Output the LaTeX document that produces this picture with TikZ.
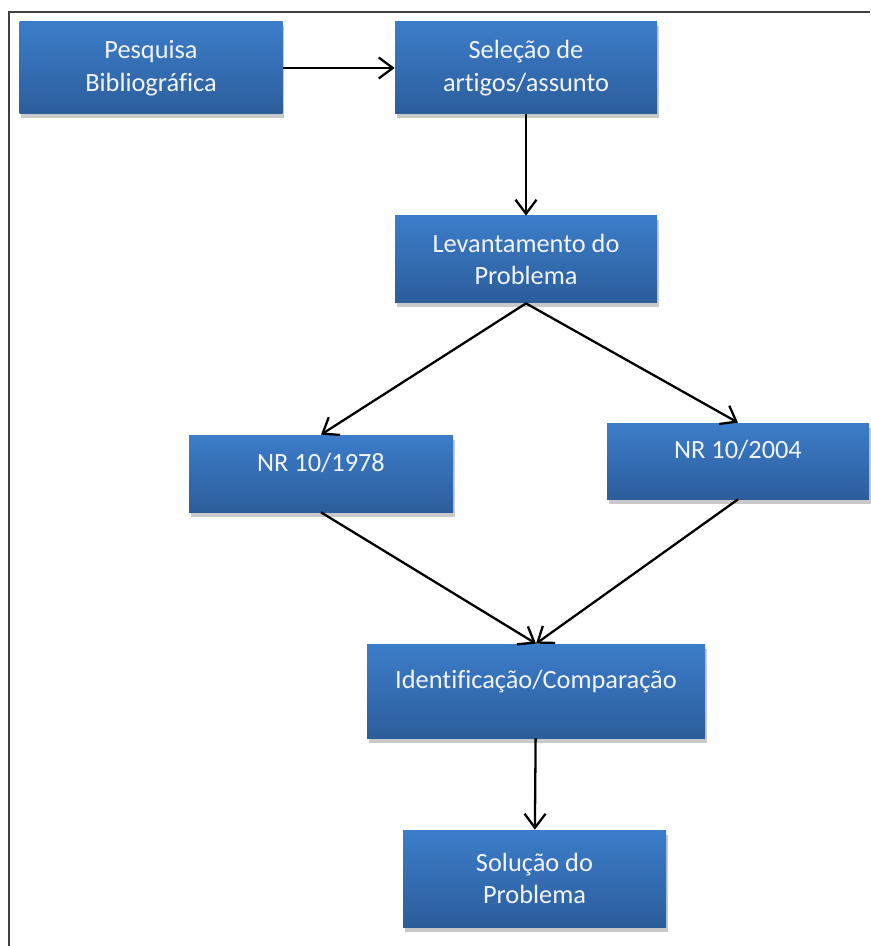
\documentclass[tikz,border=0pt]{standalone}
\usepackage{fontspec}
\setmainfont{Carlito}[Ligatures={NoCommon}]
\usepackage{tikz}
\usetikzlibrary{arrows.meta,positioning,shadows}
\definecolor{boxtop}{HTML}{3C7DCA}
\definecolor{boxbot}{HTML}{2C5D9B}
\definecolor{boxtxt}{HTML}{F2F4F8}
\definecolor{framegray}{HTML}{404040}
\tikzset{
  >={Straight Barb[length=2.8mm,width=4.2mm]},
  % caixas do fluxo
  etapa/.style={rectangle,inner sep=0pt,top color=boxtop,bottom color=boxbot,
                draw=none,text=boxtxt,align=center,
                font=\fontsize{15}{18.6}\selectfont,
                drop shadow={shadow xshift=0.3mm,shadow yshift=-0.9mm,
                             opacity=0.3,fill=black!70}},
  etapaum/.style={etapa,text height=0.4cm,text depth=0.5cm},
  seta/.style={->,draw=black,line width=1.3pt},
  moldura/.style={draw=framegray,line width=1.6pt},
}
\begin{document}
\begin{tikzpicture}
\useasboundingbox (0,0) rectangle (17.4,-18.92);
  \draw[moldura] (0.18,-18.92) -- (0.18,-0.24) -- (17.4,-0.24);
  \node[etapa,minimum width=5.26cm,minimum height=1.84cm] (pesq) at (3.02,-1.36)
    {Pesquisa\\Bibliográfica};
  \node[etapa,minimum width=5.24cm,minimum height=1.84cm] (sel) at (10.52,-1.36)
    {Seleção de\\artigos/assunto};
  \node[etapa,minimum width=5.24cm,minimum height=1.74cm] (lev) at (10.52,-5.19)
    {Levantamento do\\Problema};
  \node[etapaum,minimum width=5.28cm,minimum height=1.54cm] (nr78) at (6.42,-9.47)
    {NR 10/1978};
  \node[etapaum,minimum width=5.24cm,minimum height=1.52cm] (nr04) at (14.76,-9.22)
    {NR 10/2004};
  \node[etapaum,minimum width=6.76cm,minimum height=1.88cm] (ident) at (10.72,-13.82)
    {Identificação/Comparação};
  \node[etapa,minimum width=5.26cm,minimum height=1.94cm] (sol) at (10.69,-17.57)
    {Solução do\\Problema};
  \draw[seta] (pesq) -- (sel);
  \draw[seta] (sel) -- (lev);
  \draw[seta] (lev.south) -- (nr78.north);
  \draw[seta] (lev.south) -- (nr04.north);
  \draw[seta] (nr78.south) -- (ident.north);
  \draw[seta] (nr04.south) -- (ident.north);
  \draw[seta] (ident) -- (sol);
\end{tikzpicture}
\end{document}
